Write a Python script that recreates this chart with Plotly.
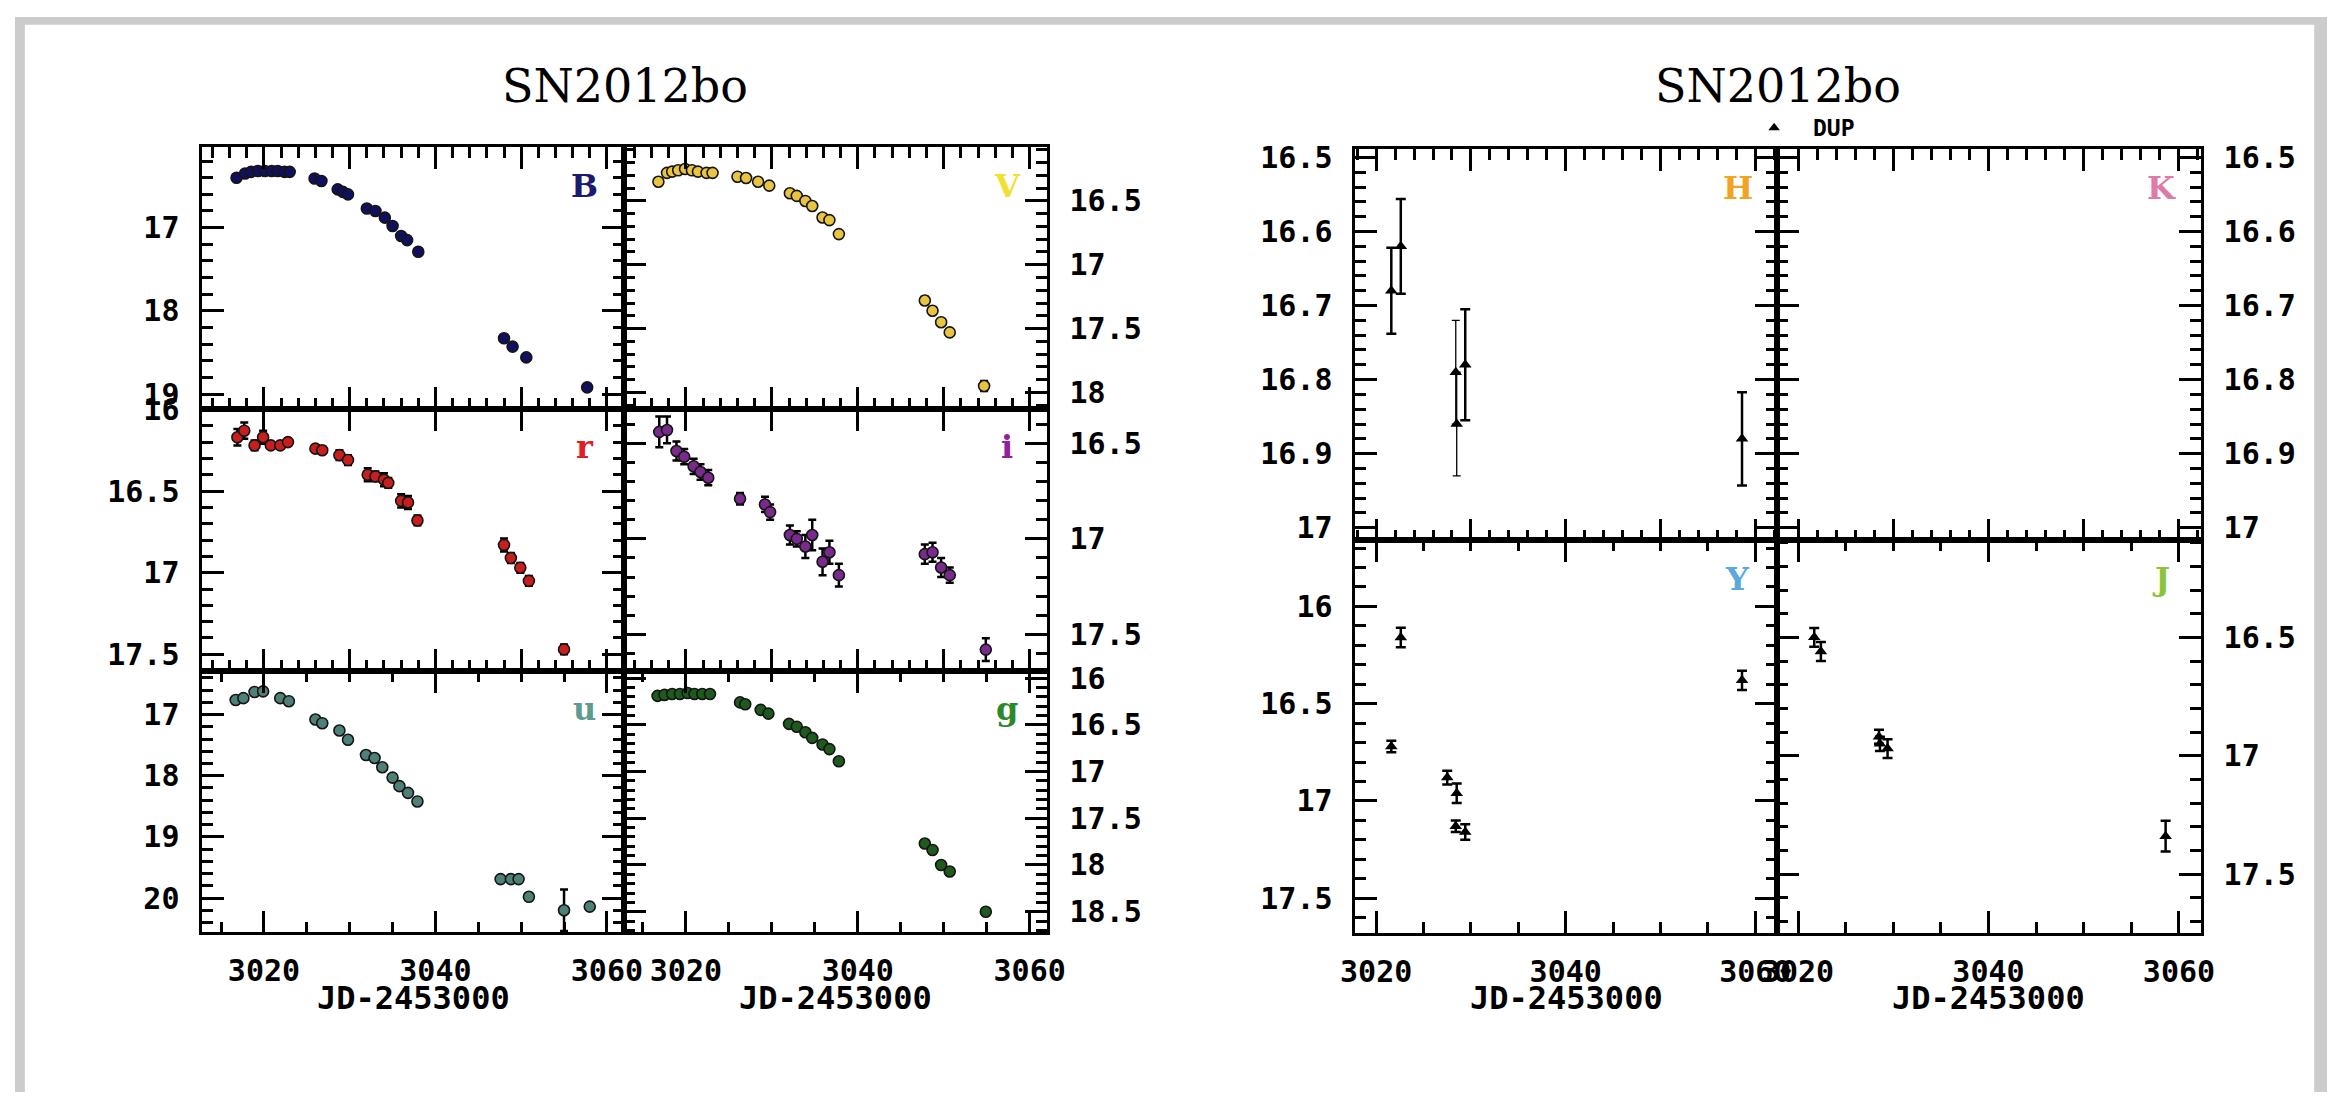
import plotly.graph_objects as go

# ---------------- data (JD-2453000, magnitudes, errors) ----------------
B_jd = [3016.8, 3017.8, 3018.5, 3019.3, 3020.1, 3020.9, 3021.6, 3022.4, 3023.0, 3025.9, 3026.7,
        3028.6, 3029.2, 3029.8, 3032.0, 3033.0, 3034.1, 3035.0, 3036.0, 3036.7, 3038.0,
        3048.0, 3049.0, 3050.6, 3057.7]
B_mag = [16.40, 16.35, 16.33, 16.32, 16.32, 16.32, 16.32, 16.33, 16.33, 16.41, 16.44,
         16.54, 16.57, 16.60, 16.77, 16.80, 16.88, 16.98, 17.10, 17.15, 17.29,
         18.33, 18.43, 18.56, 18.92]
B_err = [0.01] * 24 + [0.04]

V_jd = [3016.8, 3017.8, 3018.4, 3019.1, 3019.9, 3020.7, 3021.4, 3022.4, 3023.1, 3026.0, 3027.0,
        3028.4, 3029.7, 3032.1, 3032.9, 3033.9, 3034.7, 3035.9, 3036.7, 3037.8,
        3047.8, 3048.7, 3049.7, 3050.7, 3054.7]
V_mag = [16.35, 16.28, 16.27, 16.26, 16.25, 16.26, 16.27, 16.28, 16.28, 16.31, 16.32,
         16.35, 16.38, 16.44, 16.46, 16.50, 16.54, 16.63, 16.65, 16.76,
         17.28, 17.36, 17.45, 17.53, 17.95]
V_err = [0.01] * 20 + [0.03, 0.02, 0.02, 0.02, 0.04]

r_jd = [3016.9, 3017.7, 3018.9, 3019.9, 3020.8, 3021.9, 3022.8, 3026.0, 3026.8, 3028.8, 3029.8,
        3032.1, 3033.0, 3034.0, 3034.5, 3036.0, 3036.8, 3037.9, 3048.0, 3048.8, 3049.9, 3050.9, 3055.0]
r_mag = [16.17, 16.13, 16.22, 16.17, 16.22, 16.22, 16.20, 16.24, 16.25, 16.28, 16.31,
         16.40, 16.41, 16.43, 16.45, 16.56, 16.57, 16.68, 16.83, 16.91, 16.97, 17.05, 17.47]
r_err = [0.05, 0.05, 0.03, 0.04, 0.02, 0.02, 0.02, 0.02, 0.02, 0.03, 0.03,
         0.04, 0.03, 0.04, 0.03, 0.04, 0.04, 0.03, 0.04, 0.03, 0.03, 0.03, 0.03]

i_jd = [3016.9, 3017.8, 3018.9, 3019.8, 3020.9, 3021.7, 3022.6, 3026.3, 3029.2, 3029.8, 3032.1,
        3032.9, 3033.9, 3034.7, 3035.9, 3036.7, 3037.8, 3047.8, 3048.7, 3049.7, 3050.7, 3054.9]
i_mag = [16.44, 16.43, 16.54, 16.57, 16.62, 16.65, 16.68, 16.79, 16.82, 16.86, 16.98,
         17.00, 17.04, 16.98, 17.12, 17.07, 17.19, 17.08, 17.07, 17.15, 17.19, 17.58]
i_err = [0.08, 0.07, 0.05, 0.04, 0.04, 0.04, 0.04, 0.03, 0.04, 0.04, 0.05,
         0.04, 0.06, 0.08, 0.07, 0.06, 0.06, 0.05, 0.05, 0.05, 0.04, 0.06]

u_jd = [3016.7, 3017.6, 3018.9, 3019.9, 3021.9, 3022.9, 3026.0, 3026.8, 3028.8, 3029.8, 3031.9,
        3032.9, 3033.8, 3035.0, 3035.8, 3036.8, 3037.9, 3047.6, 3048.8, 3049.7, 3050.9, 3055.0, 3058.0]
u_mag = [16.76, 16.73, 16.63, 16.62, 16.73, 16.78, 17.08, 17.14, 17.26, 17.41, 17.66,
         17.71, 17.86, 18.03, 18.17, 18.28, 18.42, 19.69, 19.69, 19.69, 19.98, 20.20, 20.14]
u_err = [0.03] * 20 + [0.06, 0.34, 0.05]

g_jd = [3016.7, 3017.5, 3018.4, 3019.3, 3020.2, 3021.0, 3021.9, 3022.8, 3026.3, 3026.9, 3028.7,
        3029.6, 3032.0, 3032.9, 3033.9, 3034.7, 3035.9, 3036.7, 3037.8, 3047.8, 3048.7, 3049.7,
        3050.7, 3054.9]
g_mag = [16.19, 16.18, 16.17, 16.17, 16.16, 16.17, 16.17, 16.17, 16.26, 16.28, 16.34,
         16.38, 16.49, 16.52, 16.58, 16.64, 16.71, 16.76, 16.89, 17.77, 17.84, 18.00,
         18.07, 18.50]
g_err = [0.01] * 23 + [0.03]

# NIR (DUP) photometry
H_jd = [3021.6, 3022.6, 3029.4, 3058.6]
H_mag = [16.68, 16.62, 16.78, 16.88]
H_err = [0.058, 0.064, 0.075, 0.063]
H_thin_jd = [3028.4, 3028.5]
H_thin_mag = [16.79, 16.86]
H_thin_err = [0.07, 0.07]

Y_jd = [3022.6, 3021.6, 3027.5, 3028.5, 3028.4, 3029.4, 3058.6]
Y_mag = [16.16, 16.72, 16.88, 16.96, 17.13, 17.16, 16.38]
Y_err = [0.05, 0.03, 0.035, 0.05, 0.03, 0.04, 0.05]

J_jd = [3021.7, 3022.4, 3028.5, 3028.6, 3029.4, 3058.6]
J_mag = [16.50, 16.56, 16.92, 16.95, 16.97, 17.34]
J_err = [0.04, 0.04, 0.03, 0.03, 0.04, 0.065]

K_jd = []
K_mag = []

title_text = "SN2012bo"
xlabel_text = "JD-2453000"
legend_text = "DUP"

# ---------------- layout ----------------
W, Hh = 2346, 1097


def fx(p):
    return p / W


def fy(p):
    return 1 - p / Hh


TICKFONT = dict(family="DejaVu Sans Mono", size=30, color="black", weight="bold")
LW = 2.5
MAJ_LEN, MIN_LEN, TW = 22, 11, 3

panels = [
    dict(name="B", x=(190, 618), y=(133, 400), xr=(3012.8, 3062.0), yr=(19.18, 16.035), ydt=1, ymn=0.2,
         side="left", row="top", col="#10105e", lcol="#1a1a70", data=(B_jd, B_mag, B_err), kind="opt"),
    dict(name="V", x=(618, 1047), y=(133, 400), xr=(3012.8, 3062.0), yr=(18.13, 16.08), ydt=0.5, ymn=0.1,
         side="right", row="top", col="#e8c440", lcol="#f2e030", data=(V_jd, V_mag, V_err), kind="opt"),
    dict(name="r", x=(190, 618), y=(400, 667), xr=(3012.8, 3062.0), yr=(17.60, 15.997), ydt=0.5, ymn=0.1,
         side="left", row="mid", col="#c81e1e", lcol="#e02020", data=(r_jd, r_mag, r_err), kind="opt"),
    dict(name="i", x=(618, 1047), y=(400, 667), xr=(3012.8, 3062.0), yr=(17.69, 16.32), ydt=0.5, ymn=0.1,
         side="right", row="mid", col="#7a2a8c", lcol="#9020a0", data=(i_jd, i_mag, i_err), kind="opt"),
    dict(name="u", x=(190, 618), y=(667, 934), xr=(3012.8, 3062.0), yr=(20.56, 16.28), ydt=1, ymn=0.2,
         side="left", row="bot", col="#4e8078", lcol="#5f9c90", data=(u_jd, u_mag, u_err), kind="opt"),
    dict(name="g", x=(618, 1047), y=(667, 934), xr=(3012.8, 3062.0), yr=(18.72, 15.92), ydt=0.5, ymn=0.1,
         side="right", row="bot", col="#1e5a1e", lcol="#2a8a2a", data=(g_jd, g_mag, g_err), kind="opt"),
    dict(name="H", x=(1360, 1788), y=(135, 534), xr=(3017.8, 3062.3), yr=(17.017, 16.489), ydt=0.1, ymn=0.02,
         side="left", row="top", col="black", lcol="#f0a424", data=(H_jd, H_mag, H_err), kind="nir"),
    dict(name="K", x=(1788, 2218), y=(135, 534), xr=(3017.8, 3062.3), yr=(17.017, 16.489), ydt=0.1, ymn=0.02,
         side="right", row="top", col="black", lcol="#e07aa8", data=(K_jd, K_mag, []), kind="nir"),
    dict(name="Y", x=(1360, 1788), y=(534, 935), xr=(3017.8, 3062.3), yr=(17.68, 15.66), ydt=0.5, ymn=0.1,
         side="left", row="bot", col="black", lcol="#5aaade", data=(Y_jd, Y_mag, Y_err), kind="nir"),
    dict(name="J", x=(1788, 2218), y=(534, 935), xr=(3017.8, 3062.3), yr=(17.75, 16.09), ydt=0.5, ymn=0.1,
         side="right", row="bot", col="black", lcol="#8cc43a", data=(J_jd, J_mag, J_err), kind="nir"),
]

fig = go.Figure()
layout = dict(
    width=W, height=Hh, margin=dict(l=0, r=0, t=0, b=0),
    paper_bgcolor="white", plot_bgcolor="rgba(0,0,0,0)", showlegend=False,
    annotations=[],
    shapes=[],
)

# gray border strips (page background around the picture)
for (a0, a1, b0, b1) in [(0, 10, 0, Hh), (2333, W, 0, Hh), (0, W, 0, 8)]:
    layout["shapes"].append(dict(type="rect", xref="paper", yref="paper", x0=fx(a0), x1=fx(a1),
                                 y0=fy(b1), y1=fy(b0), fillcolor="#cccccc", line=dict(width=0),
                                 layer="below"))


def minor_spec(dt):
    if dt is None:
        return dict(ticks="")
    return dict(dtick=dt, tick0=0, ticks="inside", ticklen=MIN_LEN, tickwidth=TW, tickcolor="black",
                showgrid=False)


for k, p in enumerate(panels, start=1):
    suf = "" if k == 1 else str(k)
    xa, ya = "x" + suf, "y" + suf
    top_id = 10 + k
    bottom_row = p["row"] == "bot"
    bdt, bmn = (20, 5) if bottom_row else (10, 2)
    if p["row"] == "top":
        tdt, tmn = 10, 2
    elif p["row"] == "bot":
        tdt, tmn = 20, 5
    else:
        tdt, tmn = 10, None

    layout["xaxis" + suf] = dict(
        domain=[fx(p["x"][0]), fx(p["x"][1])], range=list(p["xr"]), anchor=ya,
        showline=True, linecolor="black", linewidth=LW, mirror=True,
        ticks="inside", ticklen=MAJ_LEN, tickwidth=TW, tickcolor="black", tickmode="linear",
        tick0=0, dtick=bdt, minor=minor_spec(bmn),
        showgrid=False, zeroline=False, showticklabels=bottom_row, tickfont=TICKFONT,
        ticklabelstandoff=10, layer="above traces",
    )
    layout[f"xaxis{top_id}"] = dict(
        overlaying=xa, side="top", anchor=ya, range=list(p["xr"]), showline=False,
        ticks="inside", ticklen=MAJ_LEN, tickwidth=TW, tickcolor="black", tickmode="linear",
        tick0=0, dtick=tdt, minor=minor_spec(tmn), showgrid=False, zeroline=False,
        showticklabels=False,
    )
    layout["yaxis" + suf] = dict(
        domain=[fy(p["y"][1]), fy(p["y"][0])], range=list(p["yr"]), anchor=xa, side=p["side"],
        showline=True, linecolor="black", linewidth=LW, mirror="ticks",
        ticks="inside", ticklen=MAJ_LEN, tickwidth=TW, tickcolor="black", tickmode="linear",
        tick0=0, dtick=p["ydt"], minor=minor_spec(p["ymn"]),
        showgrid=False, zeroline=False, tickfont=TICKFONT, ticklabelstandoff=14, layer="above traces",
    )

    jd, mag, err = p["data"]
    if p["kind"] == "opt":
        fig.add_trace(go.Scatter(
            x=jd, y=mag, mode="markers", xaxis=xa, yaxis=ya,
            marker=dict(symbol="circle", size=11, color=p["col"], line=dict(color="#151515", width=1.6)),
            error_y=dict(type="data", array=err, visible=True, color="black", thickness=2.5, width=4),
        ))
    else:
        fig.add_trace(go.Scatter(
            x=jd if jd else [None], y=mag if mag else [None], mode="markers", xaxis=xa, yaxis=ya,
            marker=dict(symbol="triangle-up", size=11, color="black"),
            error_y=dict(type="data", array=err if err else [0], visible=True, color="black",
                         thickness=2.5, width=5),
        ))
    # trace on the top overlay axis so that it gets drawn
    fig.add_trace(go.Scatter(x=[None], y=[None], xaxis=f"x{top_id}", yaxis=ya, mode="markers",
                             hoverinfo="skip"))

    layout["annotations"].append(dict(
        text=p["name"], xref="paper", yref="paper", x=fx(p["x"][1] - 40), y=fy(p["y"][0] + 39),
        xanchor="center", yanchor="middle", showarrow=False,
        font=dict(family="DejaVu Serif", size=32, color=p["lcol"], weight="bold"),
    ))

fig.add_trace(go.Scatter(
    x=H_thin_jd, y=H_thin_mag, mode="markers", xaxis="x7", yaxis="y7",
    marker=dict(symbol="triangle-up", size=11, color="black"),
    error_y=dict(type="data", array=H_thin_err, visible=True, color="black", thickness=1.3, width=4),
))

for cx in (618.5, 1789):
    layout["annotations"].append(dict(
        text=title_text, xref="paper", yref="paper", x=fx(cx), y=fy(70), xanchor="center", yanchor="middle",
        showarrow=False, font=dict(family="DejaVu Serif", size=46, color="black"),
    ))
for cx in (404, 833, 1574, 2003):
    layout["annotations"].append(dict(
        text=xlabel_text, xref="paper", yref="paper", x=fx(cx), y=fy(1001), xanchor="center", yanchor="middle",
        showarrow=False, font=dict(family="DejaVu Sans Mono", size=32, color="black", weight="bold"),
    ))

fig.add_trace(go.Scatter(x=[0.5], y=[0.5], xaxis="x21", yaxis="y21", mode="markers",
                         marker=dict(symbol="triangle-up", size=10, color="black"), hoverinfo="skip"))
layout["xaxis21"] = dict(domain=[fx(1775), fx(1795)], range=[0, 1], visible=False, anchor="y21")
layout["yaxis21"] = dict(domain=[fy(123), fy(103)], range=[0, 1], visible=False, anchor="x21")
layout["annotations"].append(dict(
    text=legend_text, xref="paper", yref="paper", x=fx(1822), y=fy(113), xanchor="left", yanchor="middle",
    showarrow=False, font=dict(family="DejaVu Sans Mono", size=23, color="black", weight="bold"),
))

fig.update_layout(**layout)
fig.write_html("out.html")
